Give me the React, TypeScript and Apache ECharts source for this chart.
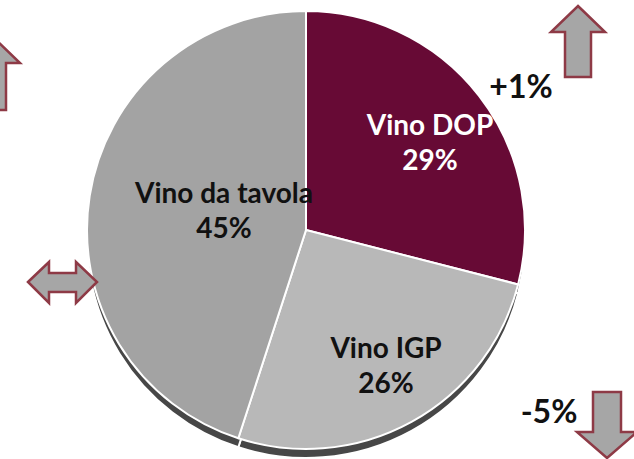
import React, { useEffect, useRef } from "react";
import * as echarts from "echarts";

const categories = ["Vino DOP", "Vino IGP", "Vino da tavola"];
const shares = [29, 26, 45];
const sliceColors = ["#670A35", "#B8B8B8", "#A3A3A3"];
const labelColors = ["#FFFFFF", "#111111", "#111111"];
const labelPos: [number, number][] = [
  [430, 124],
  [386, 347],
  [224, 192],
];
const changes = ["+1%", "-5%"];

const FONT = "Lato, 'Open Sans', sans-serif";
const ARROW_FILL = "#A6A6A6";
const ARROW_STROKE = "#8E3A46";

export default function App() {
  const ref = useRef<HTMLDivElement>(null);
  useEffect(() => {
    if (!ref.current) return;
    const chart = echarts.init(ref.current, undefined, { renderer: "svg" });
    const data = categories.map((c, i) => ({
      name: c,
      value: shares[i],
      itemStyle: { color: sliceColors[i] },
    }));
    const shadowData = categories.map((c, i) => ({
      name: c,
      value: shares[i],
      itemStyle: { color: "#474747" },
    }));

    const labelTexts: any[] = [];
    categories.forEach((c, i) => {
      const [x, y] = labelPos[i];
      labelTexts.push({
        type: "text",
        x,
        y,
        z: 100,
        style: {
          text: c,
          fill: labelColors[i],
          font: `bold 28px ${FONT}`,
          textAlign: "center",
          textVerticalAlign: "middle",
        },
      });
      labelTexts.push({
        type: "text",
        x,
        y: y + 35,
        z: 100,
        style: {
          text: `${shares[i]}%`,
          fill: labelColors[i],
          font: `bold 28px ${FONT}`,
          textAlign: "center",
          textVerticalAlign: "middle",
        },
      });
    });

    const arrowStyle = { fill: ARROW_FILL, stroke: ARROW_STROKE, lineWidth: 2.5 };
    const upArrow = (tx: number, ty: number, hb: number, hw: number, sw: number, bottom: number) => [
      [tx, ty],
      [tx + hw, hb],
      [tx + sw, hb],
      [tx + sw, bottom],
      [tx - sw, bottom],
      [tx - sw, hb],
      [tx - hw, hb],
    ];

    chart.setOption({
      animation: false,
      series: [
        {
          type: "pie",
          center: [306, 239],
          radius: 219,
          startAngle: 90,
          clockwise: true,
          silent: true,
          z: 1,
          label: { show: false },
          labelLine: { show: false },
          itemStyle: { borderColor: "#FFFFFF", borderWidth: 2 },
          data: shadowData,
        },
        {
          type: "pie",
          center: [306, 230],
          radius: 219,
          startAngle: 90,
          clockwise: true,
          z: 2,
          label: { show: false },
          labelLine: { show: false },
          itemStyle: { borderColor: "#FFFFFF", borderWidth: 2 },
          data,
        },
      ],
      graphic: [
        ...labelTexts,
        {
          type: "text",
          x: 521,
          y: 85,
          z: 100,
          style: {
            text: changes[0],
            fill: "#111111",
            font: `bold 32px ${FONT}`,
            textAlign: "center",
            textVerticalAlign: "middle",
          },
        },
        {
          type: "text",
          x: 549,
          y: 410,
          z: 100,
          style: {
            text: changes[1],
            fill: "#111111",
            font: `bold 32px ${FONT}`,
            textAlign: "center",
            textVerticalAlign: "middle",
          },
        },
        {
          type: "polygon",
          z: 50,
          shape: { points: upArrow(578, 6, 32, 27, 13, 77) },
          style: arrowStyle,
        },
        {
          type: "polygon",
          z: 50,
          shape: { points: upArrow(-7, 37, 63, 27, 13, 110) },
          style: arrowStyle,
        },
        {
          type: "polygon",
          z: 50,
          shape: {
            points: [
              [607, 458],
              [637, 432],
              [621, 432],
              [621, 392],
              [593, 392],
              [593, 432],
              [577, 432],
            ],
          },
          style: arrowStyle,
        },
        {
          type: "polygon",
          z: 50,
          shape: {
            points: [
              [28, 282],
              [49, 262],
              [49, 273],
              [76, 273],
              [76, 262],
              [97, 282],
              [76, 303],
              [76, 292],
              [49, 292],
              [49, 303],
            ],
          },
          style: arrowStyle,
        },
      ],
    });
    return () => chart.dispose();
  }, []);
  return (
    <div
      ref={ref}
      style={{ position: "absolute", left: 0, top: 0, width: 634, height: 459 }}
    />
  );
}
